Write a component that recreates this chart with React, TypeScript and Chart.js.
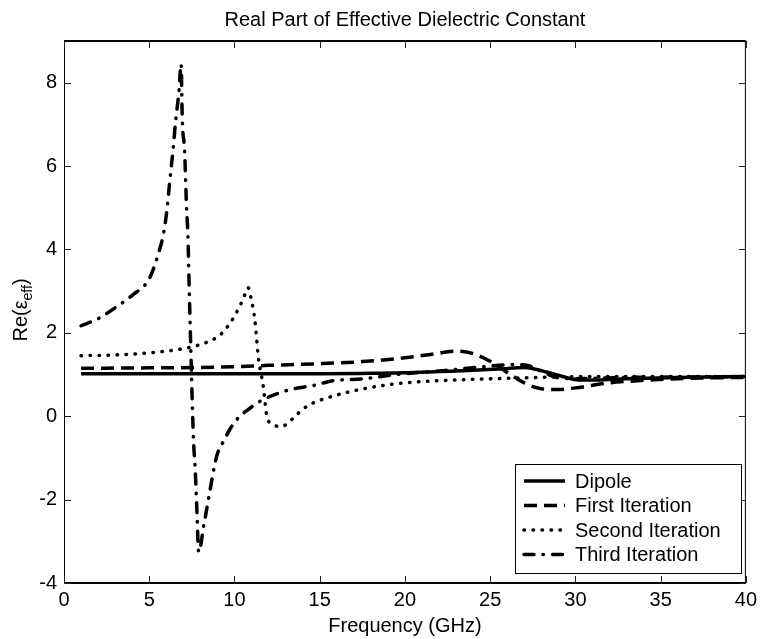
import React, { useEffect, useRef } from 'react';
import { Chart, registerables } from 'chart.js';

Chart.register(...registerables);

const TITLE = 'Real Part of Effective Dielectric Constant';
const X_LABEL = 'Frequency (GHz)';
const SERIES_LABELS = ['Dipole', 'First Iteration', 'Second Iteration', 'Third Iteration'];

const dipoleX = [1, 5, 10, 15, 18, 20, 22, 24, 25.5, 27, 28.3, 29.3, 30.2, 31.2, 33, 36, 40];
const dipoleY = [1.02, 1.02, 1.02, 1.02, 1.03, 1.04, 1.07, 1.1, 1.13, 1.17, 1.06, 0.95, 0.87, 0.87, 0.9, 0.93, 0.95];

const firstX = [1, 5, 8, 10, 12, 15, 17.5, 19.5, 21.5, 23, 24, 25, 26, 27, 28, 29, 30, 32, 34, 36, 38, 40];
const firstY = [1.15, 1.16, 1.17, 1.19, 1.22, 1.26, 1.31, 1.38, 1.48, 1.56, 1.5, 1.32, 1.05, 0.8, 0.66, 0.64, 0.68, 0.8, 0.86, 0.9, 0.92, 0.93];

const secondX = [1, 3, 5, 7, 8, 9, 9.4, 10, 10.5, 10.8, 11.0, 11.2, 11.4, 11.6, 11.7, 11.9, 12.2, 12.7, 13.1, 13.5, 14.3, 15.6, 17.6, 19.5, 22.4, 25.3, 28, 30, 35, 40];
const secondY = [1.45, 1.47, 1.52, 1.62, 1.72, 1.9, 2.05, 2.4, 2.8, 3.08, 2.77, 2.3, 1.41, 0.93, 0.69, 0.0, -0.18, -0.25, -0.18, -0.02, 0.25, 0.46, 0.66, 0.78, 0.86, 0.9, 0.93, 0.95, 0.95, 0.95];

const thirdX = [1, 2, 3, 4, 5, 5.5, 5.87, 6.05, 6.22, 6.4, 6.55, 6.74, 6.87, 6.94, 7.07, 7.19, 7.27, 7.33, 7.42, 7.52, 7.6, 7.7, 7.8, 7.9, 8.2, 8.5, 8.8, 9.0, 9.36, 9.75, 10.2, 10.8, 11.6, 13.1, 14.9, 15.6, 17.6, 19.5, 22.4, 24.4, 26.5, 27.2, 28, 29, 30, 33, 36, 40];
const thirdY = [2.17, 2.34, 2.6, 2.9, 3.3, 3.85, 4.45, 5.0, 5.7, 6.4, 7.09, 7.77, 8.45, 7.1, 6.4, 5.0, 4.33, 3.3, 1.9, 0.4, -0.6, -1.3, -2.3, -3.26, -2.62, -1.93, -1.25, -0.9, -0.6, -0.3, -0.05, 0.16, 0.38, 0.62, 0.76, 0.84, 0.9, 1.0, 1.1, 1.18, 1.24, 1.22, 1.08, 0.92, 0.9, 0.93, 0.94, 0.95];

const X_MIN = 0, X_MAX = 40, X_STEP = 5;
const Y_MIN = -4, Y_MAX = 9, Y_STEP = 2;

const FONT = '"Liberation Sans", Arial, Helvetica, sans-serif';

const pts = (xs: number[], ys: number[]) => xs.map((x, i) => ({ x, y: ys[i] }));

const styles = [
  { dash: [] as number[], cap: 'butt' },
  { dash: [13, 7], cap: 'butt' },
  { dash: [0.5, 8.5], cap: 'round' },
  { dash: [10, 9, 0.5, 9], cap: 'round' },
];

const decorPlugin = {
  id: 'decor',
  afterDraw(chart: any) {
    const ctx = chart.ctx as CanvasRenderingContext2D;
    const a = chart.chartArea;
    const xs = chart.scales.x;
    const ys = chart.scales.y;
    ctx.save();
    ctx.strokeStyle = '#000';
    ctx.setLineDash([]);
    ctx.lineWidth = 1;
    ctx.beginPath();
    ctx.moveTo(a.left + 0.5, a.top);
    ctx.lineTo(a.left + 0.5, a.bottom);
    ctx.moveTo(a.right - 0.5, a.top);
    ctx.lineTo(a.right - 0.5, a.bottom);
    ctx.stroke();
    ctx.lineWidth = 2;
    ctx.beginPath();
    ctx.moveTo(a.left, a.top);
    ctx.lineTo(a.right, a.top);
    ctx.moveTo(a.left, a.bottom);
    ctx.lineTo(a.right, a.bottom);
    ctx.stroke();
    ctx.lineWidth = 1;
    ctx.strokeStyle = '#222';
    ctx.beginPath();
    xs.ticks.forEach((t: any) => {
      const px = Math.round(xs.getPixelForValue(t.value)) + 0.5;
      ctx.moveTo(px, a.bottom);
      ctx.lineTo(px, a.bottom - 7);
      ctx.moveTo(px, a.top);
      ctx.lineTo(px, a.top + 7);
    });
    ys.ticks.forEach((t: any) => {
      const py = Math.round(ys.getPixelForValue(t.value)) + 0.5;
      ctx.moveTo(a.left, py);
      ctx.lineTo(a.left + 7, py);
      ctx.moveTo(a.right, py);
      ctx.lineTo(a.right - 7, py);
    });
    ctx.stroke();

    ctx.fillStyle = '#000';
    ctx.font = `20px ${FONT}`;
    ctx.textAlign = 'center';
    ctx.textBaseline = 'alphabetic';
    ctx.fillText(TITLE, (a.left + a.right) / 2, 26);
    ctx.fillText(X_LABEL, (a.left + a.right) / 2, 632);

    ctx.save();
    ctx.translate(27, (a.top + a.bottom) / 2 - 2);
    ctx.rotate(-Math.PI / 2);
    const main1 = 'Re(\u03B5';
    const sub = 'eff';
    const main2 = ')';
    ctx.font = `20px ${FONT}`;
    const w1 = ctx.measureText(main1).width;
    const w3 = ctx.measureText(main2).width;
    ctx.font = `14px ${FONT}`;
    const w2 = ctx.measureText(sub).width;
    const total = w1 + w2 + w3;
    let cx = -total / 2;
    ctx.textAlign = 'left';
    ctx.font = `20px ${FONT}`;
    ctx.fillText(main1, cx, 0);
    cx += w1;
    ctx.font = `14px ${FONT}`;
    ctx.fillText(sub, cx, 5);
    cx += w2;
    ctx.font = `20px ${FONT}`;
    ctx.fillText(main2, cx, 0);
    ctx.restore();

    const lx = 515, ly = 464, lw = 226, lh = 109;
    ctx.fillStyle = '#fff';
    ctx.fillRect(lx, ly, lw, lh);
    ctx.strokeStyle = '#000';
    ctx.lineWidth = 1;
    ctx.setLineDash([]);
    ctx.strokeRect(lx + 0.5, ly + 0.5, lw, lh);
    chart.data.datasets.forEach((ds: any, i: number) => {
      const y = 481 + i * 24.5;
      ctx.save();
      ctx.strokeStyle = '#000';
      ctx.lineWidth = ds.borderWidth;
      ctx.lineCap = ds.borderCapStyle;
      ctx.setLineDash(ds.borderDash || []);
      ctx.beginPath();
      ctx.moveTo(524, y);
      ctx.lineTo(565, y);
      ctx.stroke();
      ctx.restore();
      ctx.fillStyle = '#000';
      ctx.font = `20px ${FONT}`;
      ctx.textAlign = 'left';
      ctx.textBaseline = 'middle';
      ctx.fillText(ds.label, 575, y + 1);
    });
    ctx.restore();
  },
};

export default function App() {
  const ref = useRef<HTMLCanvasElement>(null);
  useEffect(() => {
    document.body.style.margin = '0';
    const seriesX = [dipoleX, firstX, secondX, thirdX];
    const seriesY = [dipoleY, firstY, secondY, thirdY];
    const chart = new Chart(ref.current!, {
      type: 'line',
      data: {
        datasets: SERIES_LABELS.map((label, i) => ({
          label,
          data: pts(seriesX[i], seriesY[i]),
          borderColor: '#000',
          backgroundColor: '#000',
          borderWidth: 3.5,
          borderDash: styles[i].dash,
          borderCapStyle: styles[i].cap as any,
          borderJoinStyle: 'round' as any,
          pointRadius: 0,
          fill: false,
          cubicInterpolationMode: 'monotone' as any,
        })),
      },
      options: {
        animation: false,
        responsive: false,
        devicePixelRatio: 1,
        layout: { padding: { left: 0, right: 10, top: 41, bottom: 0 } },
        plugins: { legend: { display: false }, title: { display: false }, tooltip: { enabled: false } },
        scales: {
          x: {
            type: 'linear',
            min: X_MIN,
            max: X_MAX,
            grid: { display: false, drawTicks: false },
            border: { display: false },
            ticks: {
              stepSize: X_STEP,
              autoSkip: false,
              maxRotation: 0,
              color: '#000',
              padding: 5,
              font: { family: FONT, size: 20 },
            },
            afterFit: (s: any) => { s.height = 56; },
          },
          y: {
            type: 'linear',
            min: Y_MIN,
            max: Y_MAX,
            grid: { display: false, drawTicks: false },
            border: { display: false },
            ticks: {
              stepSize: Y_STEP,
              autoSkip: false,
              color: '#000',
              padding: 7,
              font: { family: FONT, size: 20 },
            },
            afterBuildTicks: (s: any) => {
              s.ticks = s.ticks.filter((t: any) => (t.value - Y_MIN) % Y_STEP === 0);
            },
            afterFit: (s: any) => { s.width = 64; },
          },
        },
      },
      plugins: [decorPlugin],
    });
    return () => chart.destroy();
  }, []);
  return <canvas ref={ref} width={762} height={639} style={{ display: 'block' }} />;
}
